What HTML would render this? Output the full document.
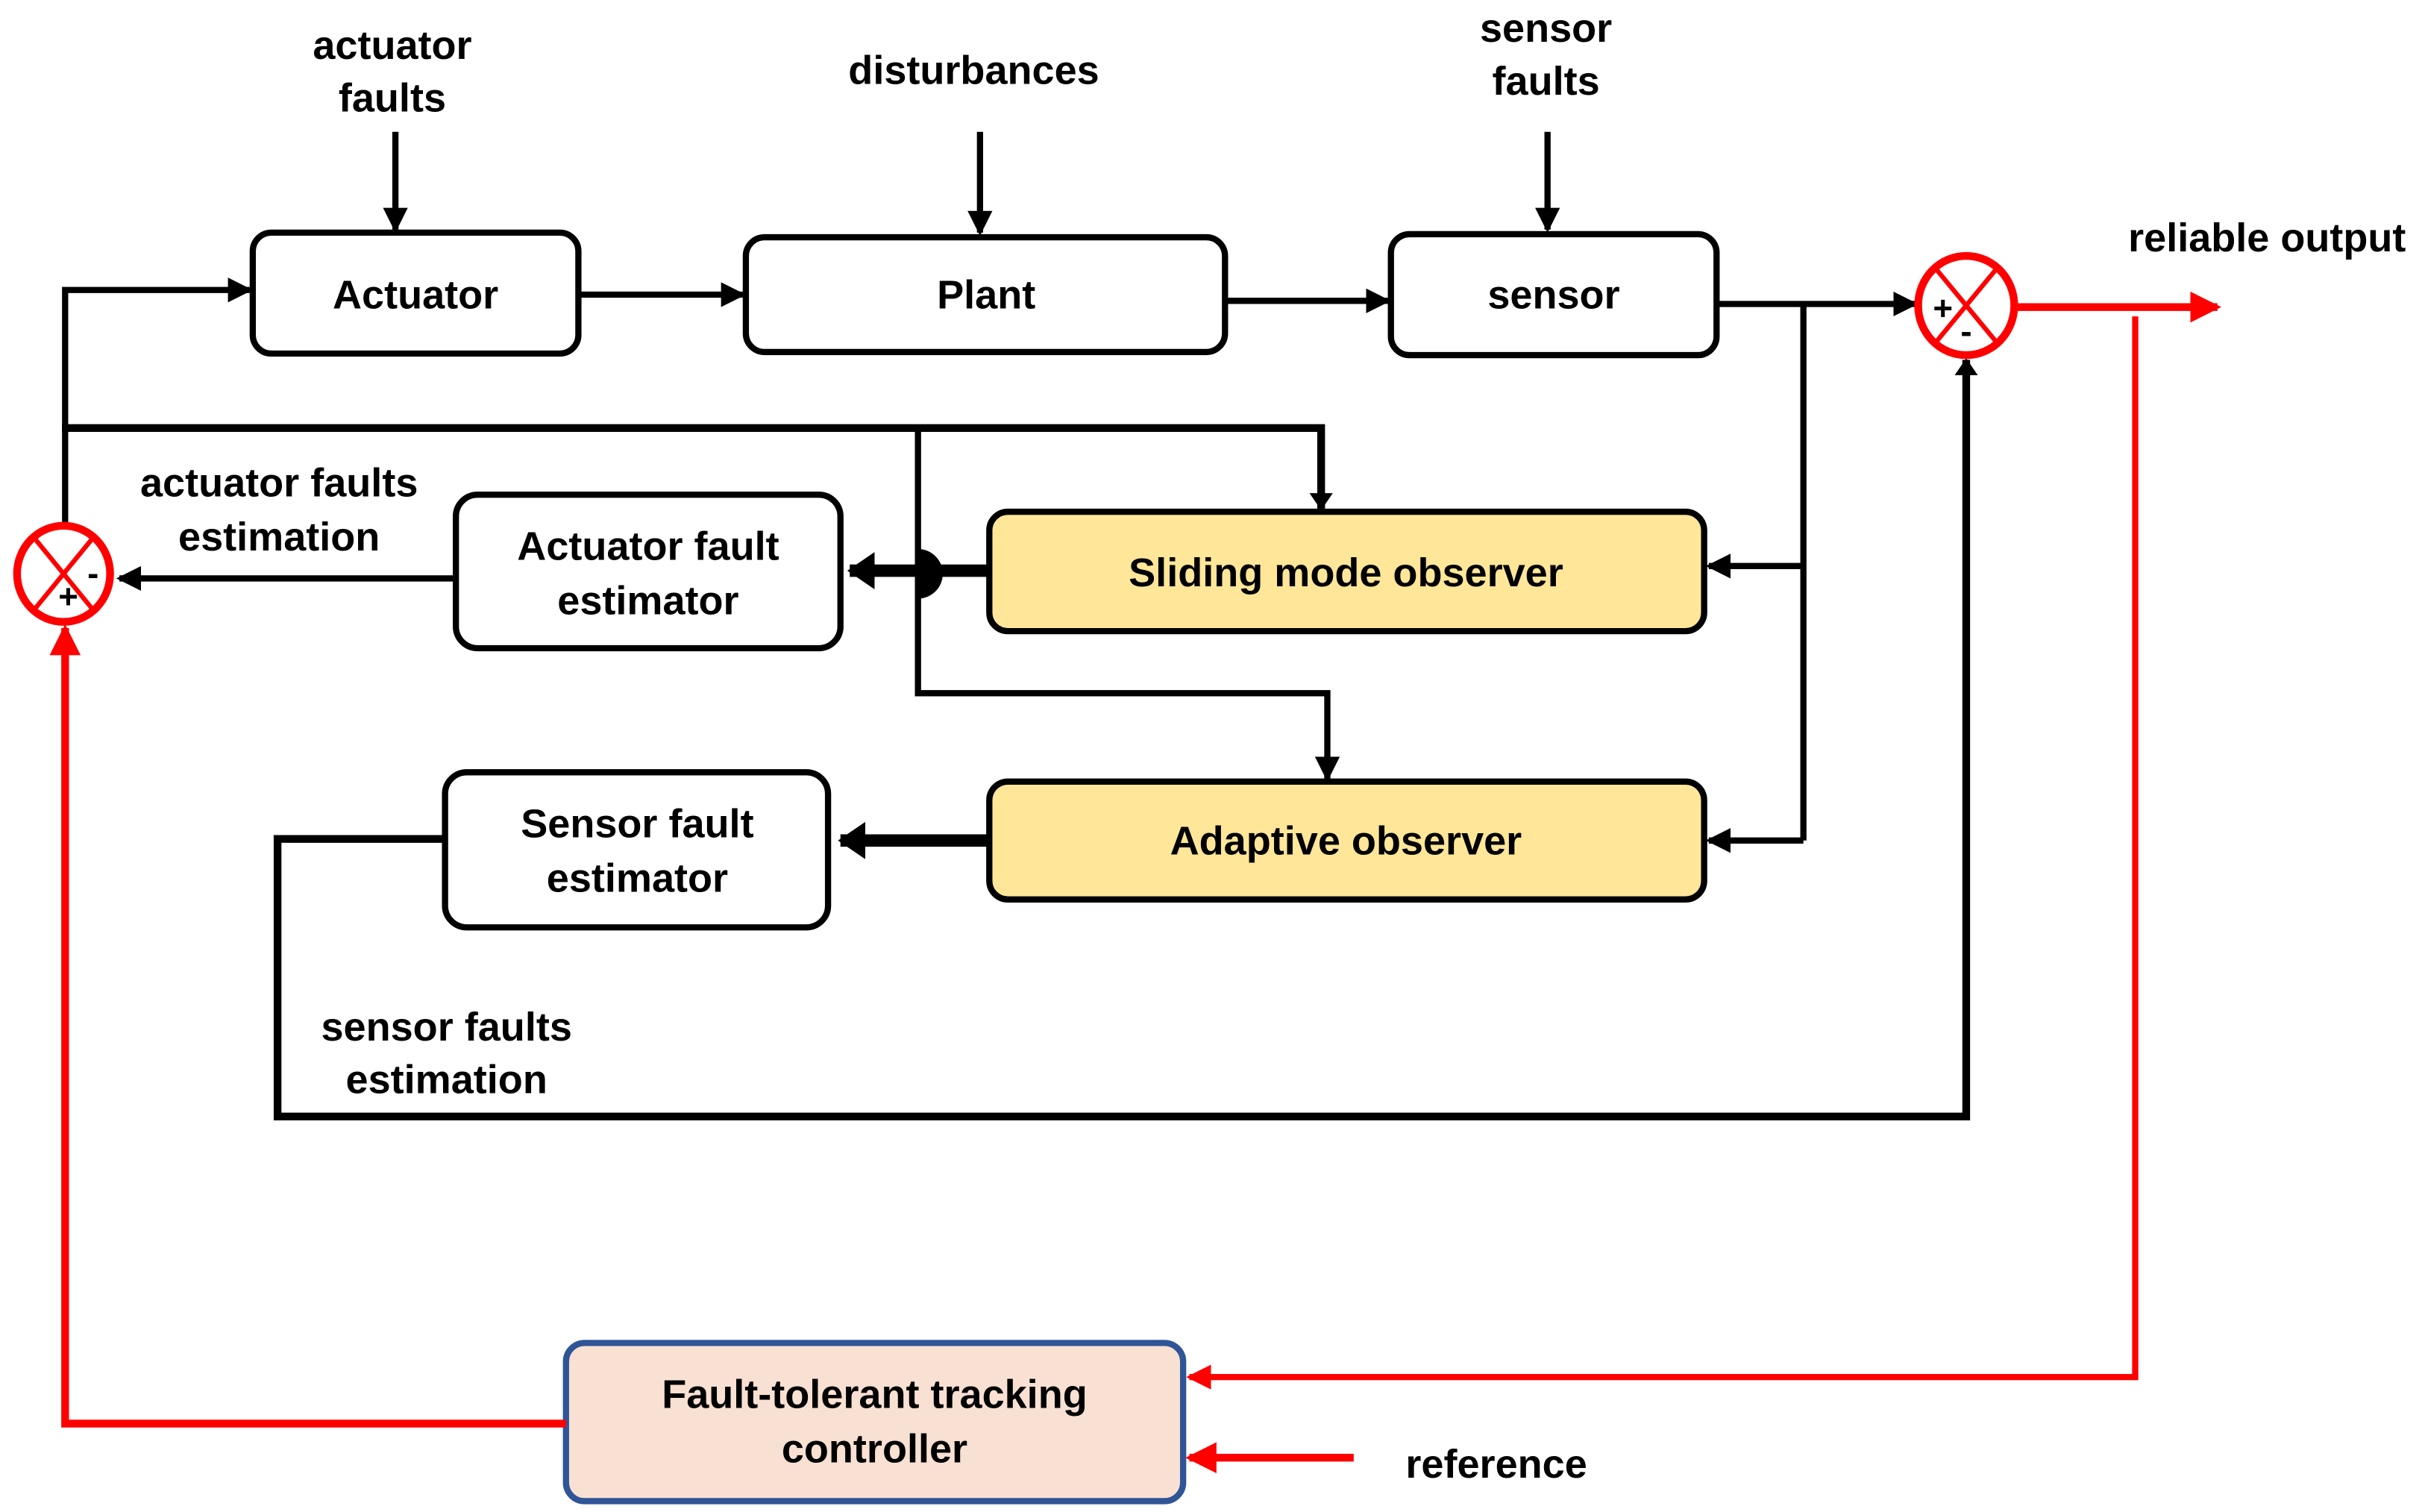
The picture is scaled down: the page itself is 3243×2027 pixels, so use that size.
<!DOCTYPE html>
<html><head><meta charset="utf-8"><style>
html,body{margin:0;padding:0;background:#fff;}
svg{display:block;}
text{font-family:"Liberation Sans",Arial,sans-serif;font-weight:bold;font-size:26px;fill:#000;text-anchor:middle;}
</style></head><body>
<svg width="3243" height="2027" viewBox="0 0 1560 975" preserveAspectRatio="none" xmlns="http://www.w3.org/2000/svg">
<defs>
<marker id="ab" markerWidth="4" markerHeight="4" refX="3.5" refY="2" orient="auto" markerUnits="strokeWidth"><path d="M0,0 L4,2 L0,4 z" fill="#000"/></marker>
<marker id="ab2" markerWidth="2.2" markerHeight="3" refX="2" refY="1.5" orient="auto" markerUnits="strokeWidth"><path d="M0,0 L2.2,1.5 L0,3 z" fill="#000"/></marker>
<marker id="ar" markerWidth="4" markerHeight="4" refX="3.5" refY="2" orient="auto" markerUnits="strokeWidth"><path d="M0,0 L4,2 L0,4 z" fill="#f00"/></marker>
</defs>
<!-- top labels -->
<text x="253" y="38">actuator</text><text x="253" y="72">faults</text>
<text x="628" y="54">disturbances</text>
<text x="997" y="27">sensor</text><text x="997" y="61">faults</text>
<text x="1462" y="162">reliable output</text>
<g stroke="#000" stroke-width="4" fill="none">
<line x1="255" y1="85" x2="255" y2="148" marker-end="url(#ab)"/>
<line x1="632" y1="85" x2="632" y2="150" marker-end="url(#ab)"/>
<line x1="998" y1="85" x2="998" y2="148" marker-end="url(#ab)"/>
<line x1="373" y1="190" x2="479" y2="190" marker-end="url(#ab)"/>
<line x1="790" y1="194" x2="895" y2="194" marker-end="url(#ab)"/>
<line x1="1107" y1="196" x2="1235" y2="196" marker-end="url(#ab)"/>
<polyline points="1163,196 1163,542"/>
<line x1="1163" y1="365" x2="1102" y2="365" marker-end="url(#ab)"/>
<line x1="1163" y1="542" x2="1102" y2="542" marker-end="url(#ab)"/>
<polyline points="42,340 42,187 161,187" marker-end="url(#ab)"/>
<polyline points="40,276 852,276 852,328" stroke-width="5" marker-end="url(#ab2)"/>
<polyline points="592,276 592,447 856,447 856,502" marker-end="url(#ab)"/>
<line x1="294" y1="373" x2="77" y2="373" marker-end="url(#ab)"/>
<polyline points="287,541 179,541 179,720 1268,720 1268,232" stroke-width="5" marker-end="url(#ab2)"/>
</g>
<path d="M592,354 A16,16 0 0 1 592,386 z" fill="#000"/>
<line x1="640" y1="368" x2="548" y2="368" stroke="#000" stroke-width="8" marker-end="url(#ab2)"/>
<line x1="638" y1="542" x2="542" y2="542" stroke="#000" stroke-width="8" marker-end="url(#ab2)"/>
<!-- boxes -->
<g stroke="#000" stroke-width="4">
<rect x="163" y="150" width="210" height="78" rx="12" fill="#fff"/>
<rect x="481" y="153" width="309" height="74" rx="12" fill="#fff"/>
<rect x="897" y="151" width="210" height="78" rx="12" fill="#fff"/>
<rect x="638" y="330" width="461" height="77" rx="12" fill="#FFE699"/>
<rect x="638" y="504" width="461" height="76" rx="12" fill="#FFE699"/>
<rect x="294" y="319" width="248" height="99" rx="14" fill="#fff"/>
<rect x="287" y="498" width="247" height="100" rx="14" fill="#fff"/>
</g>
<rect x="365" y="866" width="398" height="102" rx="12" fill="#F8E0D2" stroke="#2F5597" stroke-width="4"/>
<text x="268" y="199">Actuator</text>
<text x="636" y="199">Plant</text>
<text x="1002" y="199">sensor</text>
<text x="868" y="378">Sliding mode observer</text>
<text x="868" y="551">Adaptive observer</text>
<text x="418" y="361">Actuator fault</text><text x="418" y="396">estimator</text>
<text x="411" y="540">Sensor fault</text><text x="411" y="575">estimator</text>
<text x="180" y="320">actuator faults</text><text x="180" y="355">estimation</text>
<text x="288" y="671">sensor faults</text><text x="288" y="705">estimation</text>
<text x="564" y="908">Fault-tolerant tracking</text><text x="564" y="943">controller</text>
<text x="965" y="953">reference</text>
<!-- red -->
<g stroke="#f00" stroke-width="4" fill="none">
<line x1="1300" y1="198" x2="1430" y2="198" stroke-width="5" marker-end="url(#ar)"/>
<polyline points="1377,204 1377,888 767,888" marker-end="url(#ar)"/>
<line x1="873" y1="940" x2="767" y2="940" stroke-width="5" marker-end="url(#ar)"/>
<polyline points="365,918 42,918 42,405" stroke-width="5" marker-end="url(#ar)"/>
<ellipse cx="1268" cy="197" rx="31" ry="32" stroke-width="5"/>
<line x1="1249" y1="174" x2="1287" y2="220" stroke-width="3"/>
<line x1="1287" y1="174" x2="1249" y2="220" stroke-width="3"/>
<ellipse cx="41" cy="370" rx="30" ry="31" stroke-width="5"/>
<line x1="23" y1="348" x2="59" y2="392" stroke-width="3"/>
<line x1="59" y1="348" x2="23" y2="392" stroke-width="3"/>
</g>
<text x="1253" y="206" style="font-size:22px">+</text>
<text x="1268" y="221" style="font-size:22px">-</text>
<text x="44" y="392" style="font-size:22px">+</text>
<text x="60" y="377" style="font-size:22px">-</text>
</svg>
</body></html>
